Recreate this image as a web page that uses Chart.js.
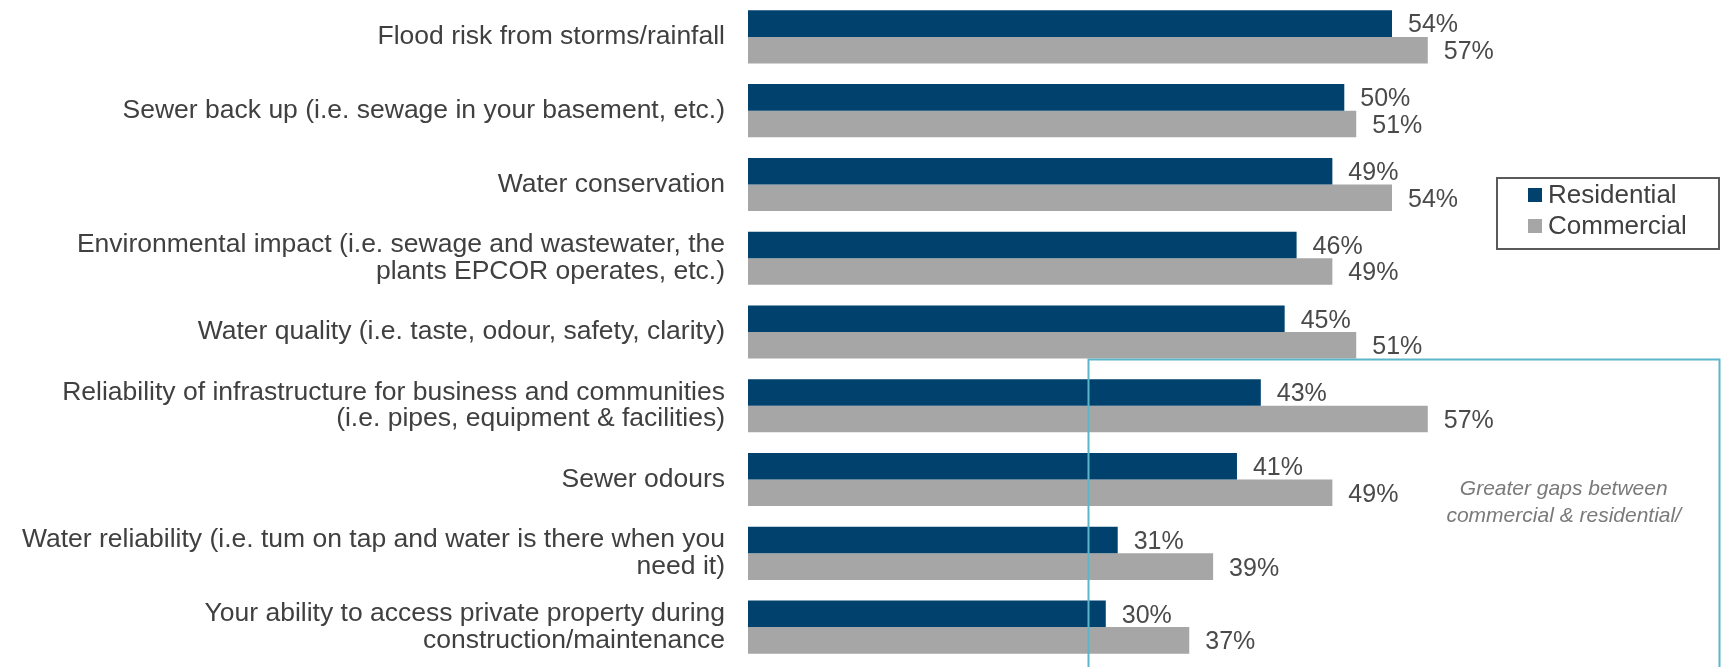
<!DOCTYPE html>
<html>
<head>
<meta charset="utf-8">
<script src="https://cdn.jsdelivr.net/npm/chart.js@4.4.1/dist/chart.umd.min.js"></script>
<style>
  html, body { margin: 0; padding: 0; background: #fff; }
  #wrap { width: 1723px; height: 667px; }
</style>
</head>
<body>
<div id="wrap"><canvas id="myChart" width="1723" height="667"></canvas></div>
<script>
// categories, top to bottom
var categories = [
    "Flood risk from storms/rainfall",
    "Sewer back up (i.e. sewage in your basement, etc.)",
    "Water conservation",
    ["Environmental impact (i.e. sewage and wastewater, the", "plants EPCOR operates, etc.)"],
    "Water quality (i.e. taste, odour, safety, clarity)",
    ["Reliability of infrastructure for business and communities", "(i.e. pipes, equipment & facilities)"],
    "Sewer odours",
    ["Water reliability (i.e. tum on tap and water is there when you", "need it)"],
    ["Your ability to access private property during", "construction/maintenance"]
];
var residential = [54, 50, 49, 46, 45, 43, 41, 31, 30];
var commercial = [57, 51, 54, 49, 51, 57, 49, 39, 37];
var seriesNames = ["Residential", "Commercial"];
var noteLines = ["Greater gaps between", "commercial & residential/"];

var blue = "#00416e";
var grey = "#a6a6a6";
var fontFamily = "'Liberation Sans', Arial, Helvetica, sans-serif";

Chart.defaults.font.family = fontFamily;

// value labels next to each bar
var valueLabels = {
    id: "valueLabels",
    afterDatasetsDraw: function (chart) {
        var ctx = chart.ctx;
        ctx.save();
        ctx.font = "25px " + fontFamily;
        ctx.fillStyle = "#4a4a4a";
        ctx.textAlign = "left";
        ctx.textBaseline = "middle";
        chart.data.datasets.forEach(function (ds, i) {
            var meta = chart.getDatasetMeta(i);
            meta.data.forEach(function (bar, j) {
                ctx.fillText(ds.data[j] + "%", bar.x + 16, bar.y + 2);
            });
        });
        ctx.restore();
    }
};

// teal callout box and its note
var callout = {
    id: "callout",
    afterDraw: function (chart) {
        var ctx = chart.ctx;
        var xs = chart.scales.x;
        var ys = chart.scales.y;
        var left = Math.round(xs.getPixelForValue(28.5)) + 0.5;
        var top = Math.round(ys.getPixelForValue(4.36)) + 0.5;
        var right = chart.width - 3.5;
        ctx.save();
        ctx.strokeStyle = "#5cb6c9";
        ctx.lineWidth = 2;
        ctx.beginPath();
        ctx.moveTo(left, chart.height + 2);
        ctx.lineTo(left, top);
        ctx.lineTo(right, top);
        ctx.lineTo(right, chart.height + 2);
        ctx.stroke();

        ctx.font = "italic 21px " + fontFamily;
        ctx.fillStyle = "#7a7a7a";
        ctx.textAlign = "center";
        ctx.textBaseline = "middle";
        var cx = xs.getPixelForValue(68.4);
        var cy = ys.getPixelForValue(6.13);
        noteLines.forEach(function (line, k) {
            ctx.fillText(line, cx, cy + k * 27);
        });
        ctx.restore();
    }
};

// boxed legend on the right
var boxLegend = {
    id: "boxLegend",
    afterDraw: function (chart) {
        var ctx = chart.ctx;
        ctx.save();
        ctx.strokeStyle = "#5a5a5a";
        ctx.lineWidth = 2;
        ctx.strokeRect(1497, 178, 222, 71);
        ctx.font = "26px " + fontFamily;
        ctx.textAlign = "left";
        ctx.textBaseline = "middle";
        chart.data.datasets.forEach(function (ds, i) {
            var y = 195 + i * 31;
            ctx.fillStyle = ds.backgroundColor;
            ctx.fillRect(1528, y - 7, 14, 14);
            ctx.fillStyle = "#404040";
            ctx.fillText(ds.label, 1548, y + 1);
        });
        ctx.restore();
    }
};

var ctx = document.getElementById("myChart").getContext("2d");
var chart = new Chart(ctx, {
    type: "bar",
    data: {
        labels: categories,
        datasets: [{
            label: seriesNames[0],
            backgroundColor: blue,
            data: residential
        }, {
            label: seriesNames[1],
            backgroundColor: grey,
            data: commercial
        }]
    },
    options: {
        indexAxis: "y",
        responsive: false,
        animation: false,
        devicePixelRatio: 1,
        layout: { padding: { left: 0, right: 9, top: 0, bottom: 3 } },
        datasets: {
            bar: { categoryPercentage: 0.72, barPercentage: 1.0 }
        },
        scales: {
            x: {
                display: false,
                min: 0,
                max: 81
            },
            y: {
                grid: { display: false, drawTicks: false },
                border: { display: false },
                ticks: {
                    color: "#404040",
                    padding: 23,
                    font: { size: 26.5, lineHeight: 1.0 }
                },
                afterFit: function (scale) {
                    scale.width = 748;
                    scale.paddingTop = 0;
                    scale.paddingBottom = 0;
                }
            }
        },
        plugins: {
            legend: { display: false },
            tooltip: { enabled: false }
        }
    },
    plugins: [valueLabels, callout, boxLegend]
});
</script>
</body>
</html>
